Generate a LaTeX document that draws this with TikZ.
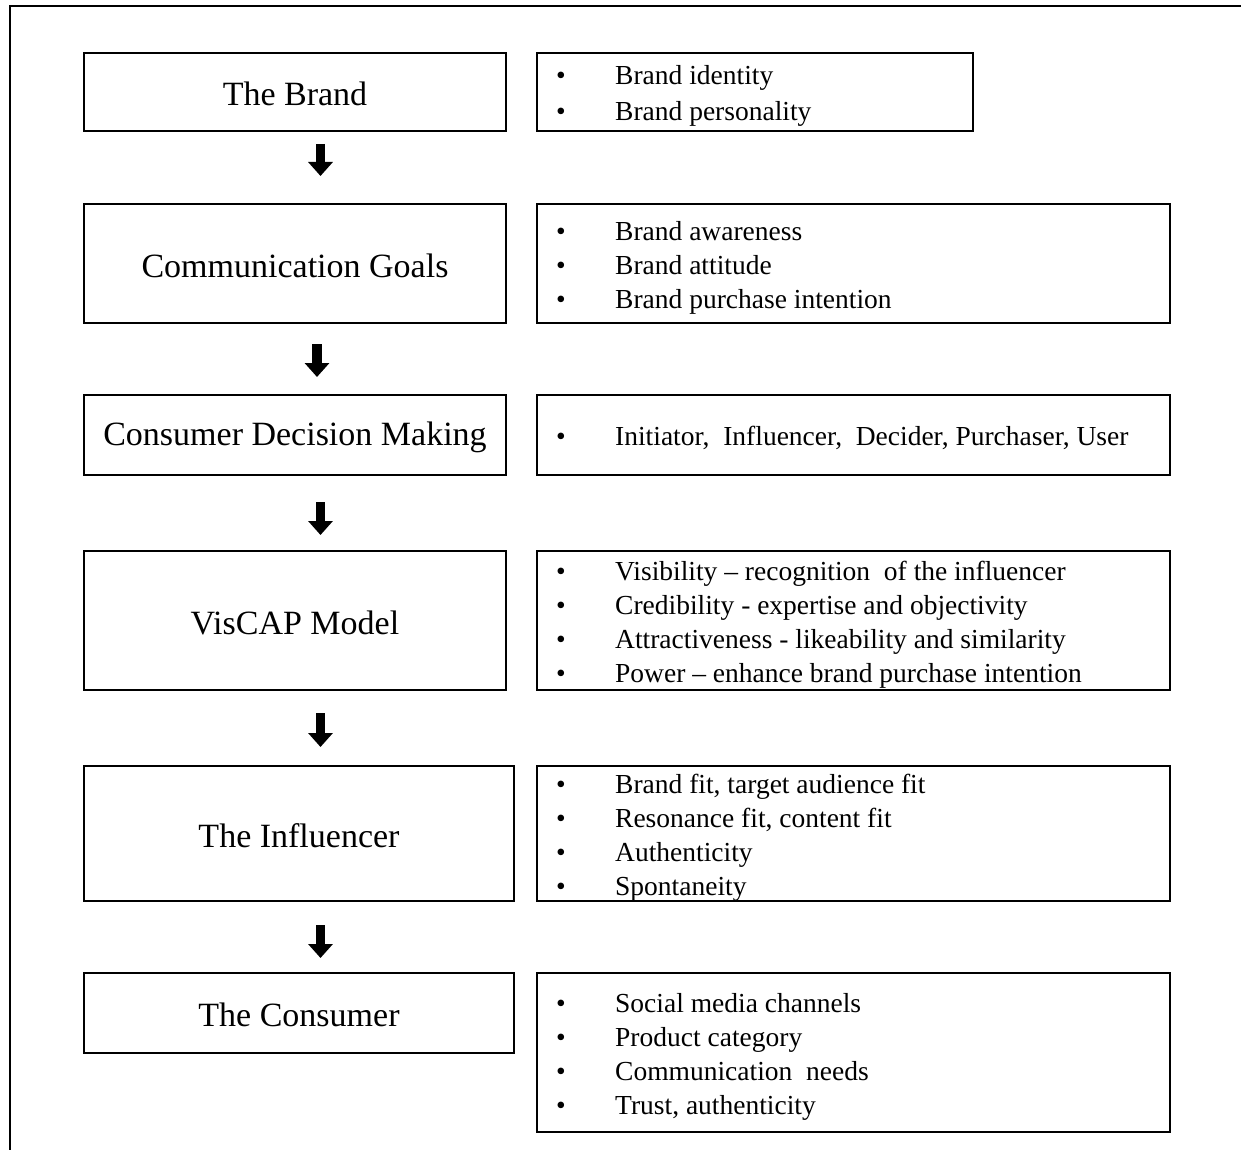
\documentclass[tikz,border=0pt]{standalone}
\usepackage{fontspec}
\setmainfont{Liberation Serif}
\usetikzlibrary{arrows.meta}
\begin{document}
\begin{tikzpicture}[x=1pt,y=-1pt,
  box/.style={draw, line width=2.4pt, inner sep=0pt, anchor=center},
  headbox/.style={box, font=\fontsize{34}{40}\selectfont},
  listtext/.style={anchor=west, inner sep=0pt, align=left, font=\fontsize{27.5}{34}\selectfont},
  flowarrow/.style={line width=9.5pt, -{Triangle[width=24pt,length=14pt]}}]
\useasboundingbox (0,0) rectangle (1241,1150);

% outer frame (left and top edges)
\draw[line width=2pt] (9.5,1150) -- (9.5,6) -- (1241,6);

% heading text sits slightly below the box centre
\newcommand{\hd}[1]{\raisebox{-2pt}[\height][\depth]{#1}}

% left column: stages
\node[headbox, minimum width=422pt, minimum height=78pt]  (brand)     at (295,92)     {\hd{The Brand}};
\node[headbox, minimum width=422pt, minimum height=119pt] (goals)     at (295,263.5)  {\hd{Communication Goals}};
\node[headbox, minimum width=422pt, minimum height=80pt]  (decision)  at (295,435)    {\hd{Consumer Decision Making}};
\node[headbox, minimum width=422pt, minimum height=139pt] (viscap)    at (295,620.5)  {\hd{VisCAP Model}};
\node[headbox, minimum width=430pt, minimum height=135pt] (influencer) at (299,833.5) {\hd{The Influencer}};
\node[headbox, minimum width=430pt, minimum height=80pt]  (consumer)  at (299,1013)   {\hd{The Consumer}};

% right column: detail boxes
\node[box, minimum width=436pt, minimum height=78pt]  (brandD)      at (755,92) {};
\node[box, minimum width=633pt, minimum height=119pt] (goalsD)      at (853.5,263.5) {};
\node[box, minimum width=633pt, minimum height=80pt]  (decisionD)   at (853.5,435) {};
\node[box, minimum width=633pt, minimum height=139pt] (viscapD)     at (853.5,620.5) {};
\node[box, minimum width=633pt, minimum height=135pt] (influencerD) at (853.5,833.5) {};
\node[box, minimum width=633pt, minimum height=159pt] (consumerD)   at (853.5,1052.5) {};

\newcommand{\itm}{\makebox[59pt][l]{\textbullet}}

\node[listtext, font=\fontsize{27.5}{36}\selectfont] (brandL) at (556,96)
  {\itm Brand identity\\ \itm Brand personality};
\node[listtext] (goalsL) at (556,268)
  {\itm Brand awareness\\ \itm Brand attitude\\ \itm Brand purchase intention};
\node[listtext] (decisionL) at (556,438)
  {\itm Initiator,\ \ Influencer,\ \ Decider, Purchaser,\ User};
\node[listtext] (viscapL) at (556,624.5)
  {\itm Visibility -- recognition\ \ of the influencer\\
   \itm Credibility - expertise and objectivity\\
   \itm Attractiveness - likeability and similarity\\
   \itm Power -- enhance brand purchase intention};
\node[listtext] (influencerL) at (556,838)
  {\itm Brand fit, target audience fit\\
   \itm Resonance fit, content fit\\
   \itm Authenticity\\
   \itm Spontaneity};
\node[listtext] (consumerL) at (556,1057)
  {\itm Social media channels\\
   \itm Product category\\
   \itm Communication\ \ needs\\
   \itm Trust, authenticity};

% arrows between stages
\coordinate (a1s) at (320.5,144); \coordinate (a1e) at (320.5,176);
\coordinate (a2s) at (317,344);   \coordinate (a2e) at (317,377);
\coordinate (a3s) at (320.5,502); \coordinate (a3e) at (320.5,535);
\coordinate (a4s) at (320.5,713); \coordinate (a4e) at (320.5,747);
\coordinate (a5s) at (320.5,925); \coordinate (a5e) at (320.5,958);
\draw[flowarrow] (a1s) -- (a1e);
\draw[flowarrow] (a2s) -- (a2e);
\draw[flowarrow] (a3s) -- (a3e);
\draw[flowarrow] (a4s) -- (a4e);
\draw[flowarrow] (a5s) -- (a5e);
\end{tikzpicture}
\end{document}
